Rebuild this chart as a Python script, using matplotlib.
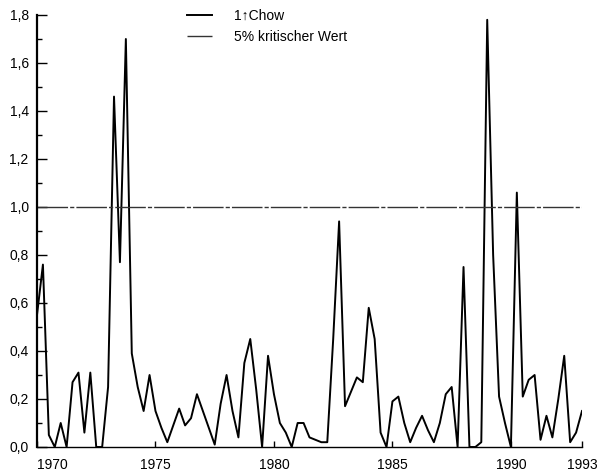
import matplotlib
matplotlib.use("Agg")
import matplotlib.pyplot as plt
import matplotlib.transforms as mtransforms
import numpy as np

plt.rcParams['font.family'] = ['Liberation Sans', 'DejaVu Sans']

# Quarterly data, 1970Q1 .. 1993Q1
start_year = 1970
chow_values = [
    0.55, 0.76, 0.05, 0.00, 0.10, 0.00, 0.27, 0.31,   # 1970-71
    0.06, 0.31, 0.00, 0.00, 0.25, 1.46, 0.77, 1.70,   # 1972-73
    0.39, 0.25, 0.15, 0.30, 0.15, 0.08, 0.02, 0.09,   # 1974-75
    0.16, 0.09, 0.12, 0.22, 0.15, 0.08, 0.01, 0.18,   # 1976-77
    0.30, 0.15, 0.04, 0.35, 0.45, 0.24, 0.00, 0.38,   # 1978-79
    0.22, 0.10, 0.06, 0.00, 0.10, 0.10, 0.04, 0.03,   # 1980-81
    0.02, 0.02, 0.45, 0.94, 0.17, 0.23, 0.29, 0.27,   # 1982-83
    0.58, 0.45, 0.06, 0.00, 0.19, 0.21, 0.10, 0.02,   # 1984-85
    0.08, 0.13, 0.07, 0.02, 0.10, 0.22, 0.25, 0.00,   # 1986-87
    0.75, 0.00, 0.00, 0.02, 1.78, 0.80, 0.21, 0.10,   # 1988-89
    0.00, 1.06, 0.21, 0.28, 0.30, 0.03, 0.13, 0.04,   # 1990-91
    0.20, 0.38, 0.02, 0.06, 0.15,                     # 1992-93Q1
]
critical_value = 1.0
series_labels = ["1\u2191Chow", "5% kritischer Wert"]

y_ticks = [0.0, 0.2, 0.4, 0.6, 0.8, 1.0, 1.2, 1.4, 1.6, 1.8]
y_ticklabels = ["0,0", "0,2", "0,4", "0,6", "0,8", "1,0", "1,2", "1,4", "1,6", "1,8"]
x_ticks = [1970, 1975, 1980, 1985, 1990, 1993]
x_ticklabels = ["1970", "1975", "1980", "1985", "1990", "1993"]

t = start_year + np.arange(len(chow_values)) / 4.0

fig = plt.figure(figsize=(6.01, 4.75), dpi=100)
ax = fig.add_axes([37 / 601, 28 / 475, 545 / 601, 432 / 475])

ax.plot(t, chow_values, color='black', lw=1.4, label=series_labels[0])
ax.plot([t[0], t[-1]], [critical_value, critical_value], color='#333333',
        lw=1.0, linestyle=(0, (22, 1.5, 3, 1.5)), label=series_labels[1])

ax.set_xlim(1970, 1993)
ax.set_ylim(0, 1.8)

ax.spines['top'].set_visible(False)
ax.spines['right'].set_visible(False)
ax.spines['left'].set_linewidth(1.6)
ax.spines['bottom'].set_linewidth(1.0)

ax.set_yticks(y_ticks)
ax.set_yticklabels(y_ticklabels)
ax.set_yticks(np.arange(0.1, 1.8, 0.2), minor=True)
ax.tick_params(axis='y', which='major', direction='in', length=7, width=1.0,
               labelsize=10, pad=6)
ax.tick_params(axis='y', which='minor', direction='in', length=3.5, width=1.0)

ax.set_xticks(x_ticks)
ax.set_xticklabels(x_ticklabels)
ax.tick_params(axis='x', which='major', direction='in', length=4, width=1.0,
               labelsize=10, pad=8)

# shift the first year label to the right, as in the original
lbl0 = ax.get_xticklabels()[0]
lbl0.set_transform(lbl0.get_transform() +
                   mtransforms.ScaledTranslation(15 / 100, 0, fig.dpi_scale_trans))

ax.legend(loc='upper left', bbox_to_anchor=(187 / 601, 1 - 9 / 475),
          bbox_transform=fig.transFigure, frameon=False, fontsize=10,
          handlelength=1.8, handletextpad=1.6, labelspacing=0.5,
          borderaxespad=0, borderpad=0)

fig.savefig("out.png", dpi=100)
